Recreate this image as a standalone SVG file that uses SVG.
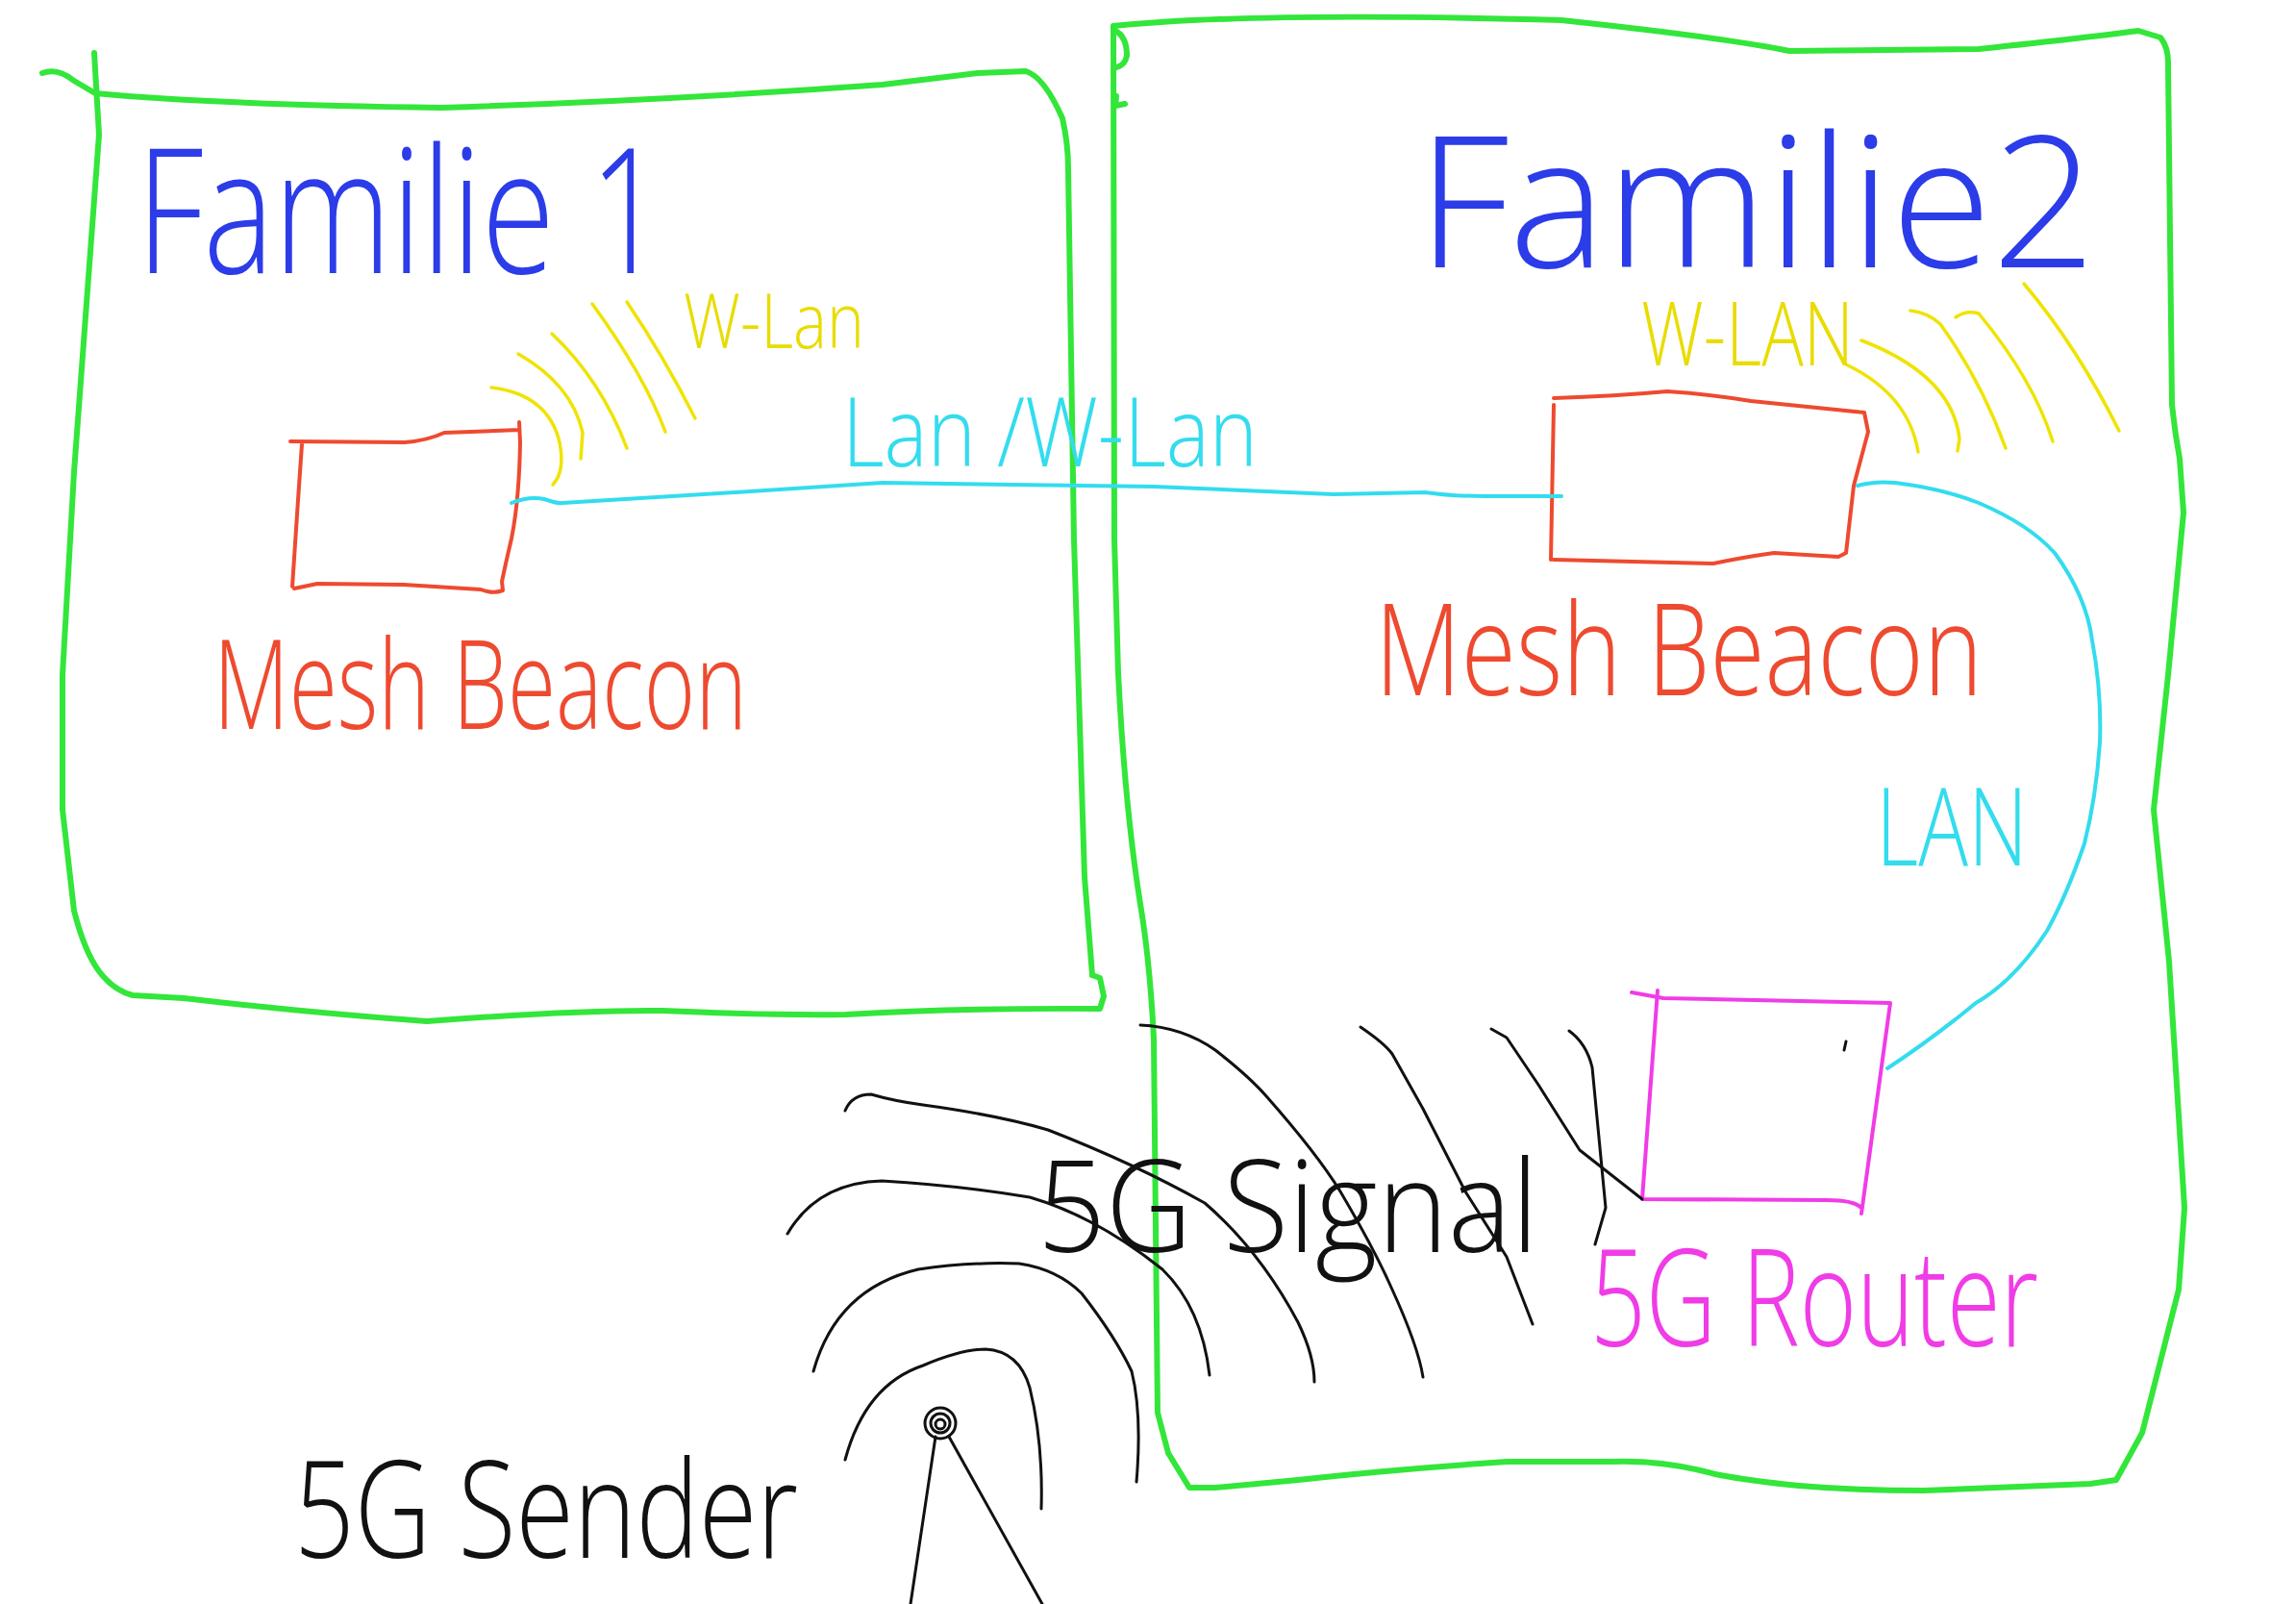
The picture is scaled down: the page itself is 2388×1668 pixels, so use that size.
<svg xmlns="http://www.w3.org/2000/svg" width="2388" height="1668" viewBox="0 0 2388 1668">
<style>
.s{fill:none;stroke-linecap:round;stroke-linejoin:round}
.g{stroke:#33e63a;stroke-width:6}
.r{stroke:#ee4a30;stroke-width:4}
.y{stroke:#efe400;stroke-width:3.5}
.c{stroke:#33dcee;stroke-width:4}
.m{stroke:#f03ce6;stroke-width:4}
.k{stroke:#111;stroke-width:3}
.t{font-family:"Open Sans","Liberation Sans",sans-serif;font-weight:300}
.tb{fill:#2b3ce8}.tr{fill:#ee4a30}.ty{fill:#e8dc00}.tc{fill:#33dcee}.tm{fill:#f03ce6}.tk{fill:#111}
</style>
<rect width="2388" height="1668" fill="#fff"/>

<g id="familie1">
<path class="s g" d="M44,76 Q60,70 77,84 L99,97 Q230,109 459,112 Q700,104 918,88 L1017,76 L1067,74 Q1086,80 1105,123 Q1111,150 1111,175 L1117,561 L1128,912 L1136,1014"/>
<path class="s g" d="M98,55 L103,140 L77,491 L65,702 L65,842 L77,947 Q88,990 103,1010 Q118,1030 138,1035 L191,1038 Q320,1053 444,1062 Q600,1050 689,1051 Q800,1056 880,1055 Q1000,1048 1144,1049 L1148,1036 L1144,1017 L1136,1014"/>
<text class="t tb" x="142" y="284" font-size="180" textLength="550" lengthAdjust="spacingAndGlyphs">Familie 1</text>
</g>

<g id="familie2">
<path class="s g" d="M1158,27 Q1308,12 1624,21 Q1800,40 1861,53 L2058,51 Q2180,38 2224,32 L2247,39 Q2256,50 2255,70 L2259,421 Q2262,450 2267,477 L2271,533 L2255,702 L2240,842 L2256,1000 L2272,1256 L2266,1341 L2228,1490 L2201,1539 L2174,1543 L2001,1550 Q1930,1550 1871,1545 Q1820,1540 1784,1533 Q1730,1518 1676,1520 L1567,1520 Q1450,1528 1350,1539 L1264,1547 L1237,1547 L1215,1511 L1204,1469 L1200,1080 Q1196,1000 1186,940 Q1170,840 1163,700 L1159,561 L1158,27"/>
<path class="s g" stroke-width="3" d="M1160,32 Q1172,38 1172,58 Q1170,68 1161,70 M1161,100 L1160,110 L1170,108"/>
<text class="t tb" x="1474" y="278" font-size="190" textLength="706" lengthAdjust="spacingAndGlyphs">Familie2</text>
</g>

<g id="beacon1">
<path class="s r" d="M302,459 L421,460 Q445,458 462,450 L540,447 M540,439 L541,460 Q540,520 532,560 Q525,590 522,605 L523,614 Q512,618 500,613 L420,608 L330,607 L306,612 M314,462 L310,520 L304,610"/>
<text class="t tr" x="222" y="758" font-size="130" textLength="555" lengthAdjust="spacingAndGlyphs">Mesh Beacon</text>
</g>

<g id="beacon2">
<path class="s r" d="M1616,414 Q1680,412 1734,407 Q1780,410 1821,417 L1939,429 L1943,449 L1928,505 L1920,575 L1912,579 L1845,575 Q1810,580 1782,586 L1616,582 M1616,421 L1613,582"/>
<text class="t tr" x="1430" y="723" font-size="132" textLength="632" lengthAdjust="spacingAndGlyphs">Mesh Beacon</text>
</g>

<g id="wlan1">
<path class="s y" d="M511,403 Q570,410 582,460 Q588,490 575,504"/>
<path class="s y" d="M539,368 Q595,400 606,450 L604,477"/>
<path class="s y" d="M574,347 Q625,395 652,466"/>
<path class="s y" d="M616,316 Q670,390 692,449"/>
<path class="s y" d="M652,314 Q690,370 723,435"/>
<text class="t ty" x="711" y="362" font-size="80" textLength="188" lengthAdjust="spacingAndGlyphs">W-Lan</text>
</g>

<g id="wlan2">
<path class="s y" d="M1920,379 Q1985,410 1995,470"/>
<path class="s y" d="M1936,354 Q2030,390 2038,456 L2036,469"/>
<path class="s y" d="M1987,323 Q2005,325 2018,337 Q2060,395 2086,466"/>
<path class="s y" d="M2034,330 Q2045,322 2058,326 Q2115,395 2135,459"/>
<path class="s y" d="M2105,295 Q2160,360 2204,448"/>
<text class="t ty" x="1707" y="380" font-size="92" textLength="221" lengthAdjust="spacingAndGlyphs">W-LAN</text>
</g>

<g id="router">
<path class="s m" d="M1697,1032 L1730,1038 L1966,1043 L1936,1262 M1936,1256 Q1928,1248 1900,1248 L1708,1247 M1724,1030 L1708,1247"/>
<path class="s k" d="M1920,1083 L1918,1092"/>
<text class="t tm" x="1654" y="1400" font-size="140" textLength="466" lengthAdjust="spacingAndGlyphs">5G Router</text>
</g>

<g id="sender">
<circle class="s k" cx="978" cy="1480" r="16"/>
<circle class="s k" cx="978" cy="1480" r="10"/>
<circle class="s k" cx="978" cy="1481" r="5"/>
<path class="s k" d="M973,1494 L947,1668 M987,1494 L1084,1668"/>
<text class="t tk" x="306" y="1620" font-size="140" textLength="524" lengthAdjust="spacingAndGlyphs">5G Sender</text>
</g>

<g id="signal">
<path class="s k" d="M879,1518 Q900,1440 960,1420 Q1000,1403 1025,1403 Q1060,1405 1071,1443 Q1085,1500 1083,1569"/>
<path class="s k" d="M846,1426 Q870,1340 955,1320 Q1010,1312 1060,1314 Q1100,1320 1125,1345 Q1160,1390 1177,1426 Q1188,1470 1182,1541"/>
<path class="s k" d="M819,1283 Q850,1230 917,1228 Q1000,1233 1071,1245 Q1140,1265 1209,1320 Q1250,1360 1258,1430"/>
<path class="s k" d="M879,1155 Q886,1138 906,1138 Q930,1145 960,1149 Q1040,1160 1090,1175 Q1180,1210 1253,1251 Q1310,1300 1350,1375 Q1367,1410 1367,1437"/>
<path class="s k" d="M1186,1066 Q1230,1068 1264,1092 Q1300,1120 1318,1141 Q1370,1200 1394,1239 Q1430,1300 1448,1341 Q1475,1400 1480,1432"/>
<path class="s k" d="M1415,1068 Q1440,1085 1448,1096 L1480,1153 L1524,1239 L1567,1307 L1594,1377"/>
<path class="s k" d="M1551,1070 L1567,1079 L1600,1128 L1643,1196 L1708,1247"/>
<path class="s k" d="M1632,1072 Q1650,1085 1656,1110 L1670,1256 L1659,1294"/>
<text class="t tk" x="1079" y="1302" font-size="133" textLength="521" lengthAdjust="spacingAndGlyphs">5G Signal</text>
</g>

<g id="connectors">
<path class="s c" d="M532,523 Q550,516 566,519 Q580,524 585,523 L765,512 L918,502 L1200,506 L1387,514 L1482,512 Q1510,516 1545,516 L1624,516"/>
<text class="t tc" x="876" y="485" font-size="100" textLength="432" lengthAdjust="spacingAndGlyphs">Lan /W-Lan</text>
<path class="s c" d="M1932,505 Q1950,500 1971,502 Q2020,508 2058,523 Q2110,545 2137,575 Q2170,620 2176,666 Q2186,720 2184,772 Q2180,830 2168,877 Q2150,930 2129,968 Q2095,1020 2055,1043 Q2010,1080 1963,1111"/>
<text class="t tc" x="1951" y="900" font-size="112" textLength="158" lengthAdjust="spacingAndGlyphs">LAN</text>
</g>
</svg>
